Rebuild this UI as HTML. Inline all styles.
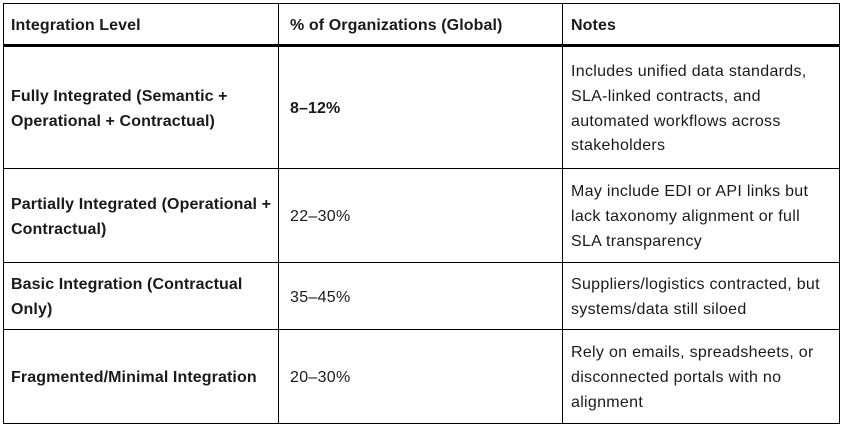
<!DOCTYPE html>
<html><head><style>
body{margin:0;width:847px;height:428px;background:#fff;font-family:"Liberation Sans",sans-serif;color:#1a1a1a;font-size:16px;}
.l{position:absolute;background:#000;}
.c{position:absolute;display:flex;align-items:center;line-height:24.7px;letter-spacing:0.3px;white-space:nowrap;transform:translateY(2px);}
b{font-weight:bold;letter-spacing:0.1px;}
</style></head><body>
<div class="l" style="left:3px;top:3px;width:837px;height:1px"></div>
<div class="l" style="left:3px;top:44px;width:837px;height:3px"></div>
<div class="l" style="left:3px;top:168px;width:837px;height:1px"></div>
<div class="l" style="left:3px;top:262px;width:837px;height:1px"></div>
<div class="l" style="left:3px;top:329px;width:837px;height:1px"></div>
<div class="l" style="left:3px;top:423px;width:837px;height:1px"></div>
<div class="l" style="left:3px;top:3px;width:1px;height:421px"></div>
<div class="l" style="left:278px;top:3px;width:1px;height:421px"></div>
<div class="l" style="left:562px;top:3px;width:1px;height:421px"></div>
<div class="l" style="left:839px;top:3px;width:1px;height:421px"></div>

<div class="c" style="left:11px;top:4px;width:265px;height:40px"><b>Integration Level</b></div>
<div class="c" style="left:290px;top:4px;width:270px;height:40px"><b>% of Organizations (Global)</b></div>
<div class="c" style="left:571px;top:4px;width:265px;height:40px"><b>Notes</b></div>

<div class="c" style="left:11px;top:47px;width:265px;height:121px"><b>Fully Integrated (Semantic +<br>Operational + Contractual)</b></div>
<div class="c" style="left:290px;top:47px;width:270px;height:121px"><b>8–12%</b></div>
<div class="c" style="left:571px;top:47px;width:265px;height:121px">Includes unified data standards,<br>SLA-linked contracts, and<br>automated workflows across<br>stakeholders</div>

<div class="c" style="left:11px;top:169px;width:265px;height:93px"><b>Partially Integrated (Operational +<br>Contractual)</b></div>
<div class="c" style="left:290px;top:169px;width:270px;height:93px">22–30%</div>
<div class="c" style="left:571px;top:169px;width:265px;height:93px">May include EDI or API links but<br>lack taxonomy alignment or full<br>SLA transparency</div>

<div class="c" style="left:11px;top:263px;width:265px;height:66px"><b>Basic Integration (Contractual<br>Only)</b></div>
<div class="c" style="left:290px;top:263px;width:270px;height:66px">35–45%</div>
<div class="c" style="left:571px;top:263px;width:265px;height:66px">Suppliers/logistics contracted, but<br>systems/data still siloed</div>

<div class="c" style="left:11px;top:330px;width:265px;height:93px"><b>Fragmented/Minimal Integration</b></div>
<div class="c" style="left:290px;top:330px;width:270px;height:93px">20–30%</div>
<div class="c" style="left:571px;top:330px;width:265px;height:93px">Rely on emails, spreadsheets, or<br>disconnected portals with no<br>alignment</div>
</body></html>
